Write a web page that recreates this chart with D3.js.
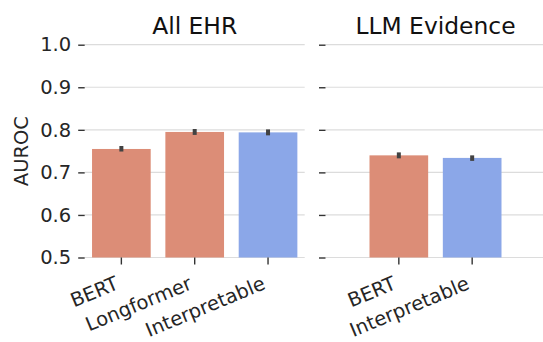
<!DOCTYPE html>
<html>
<head>
<meta charset="utf-8">
<script src="https://cdn.jsdelivr.net/npm/d3@7"></script>
<style>
  html, body { margin: 0; padding: 0; background: #fff; }
  svg { display: block; font-family: "DejaVu Sans", sans-serif; }
</style>
</head>
<body>
<div id="chart"></div>
<script>
// ── Data ─────────────────────────────────────────────────────
const panelTitles = ['All EHR', 'LLM Evidence'];

const ehrModels = ['BERT', 'Longformer', 'Interpretable'];
const ehrAuroc  = [0.755, 0.795, 0.794];
const ehrLow    = [0.749, 0.788, 0.787];
const ehrHigh   = [0.762, 0.802, 0.801];

const llmModels = ['BERT', 'Interpretable'];
const llmAuroc  = [0.740, 0.734];
const llmLow    = [0.733, 0.727];
const llmHigh   = [0.747, 0.740];

const yTicks = [0.5, 0.6, 0.7, 0.8, 0.9, 1.0];

const COLORS = { neural: '#dc8d77', interp: '#8ba7e8' };
const colorOf = m => m === 'Interpretable' ? COLORS.interp : COLORS.neural;

// ── Layout ───────────────────────────────────────────────────
const width = 543, height = 342;
const plotTop = 44.7, plotBottom = 257.5;
const panels = [
  { title: panelTitles[0], x0: 84.7,  x1: 304.7, models: ehrModels, vals: ehrAuroc, lo: ehrLow, hi: ehrHigh, labels: true },
  { title: panelTitles[1], x0: 325.5, x1: 545.5, models: llmModels, vals: llmAuroc, lo: llmLow, hi: llmHigh, labels: false },
];
const slots = 3; // both panels share the same category width

const svg = d3.select('#chart').append('svg')
  .attr('width', width).attr('height', height);

const y = d3.scaleLinear().domain([0.5, 1.0]).range([plotBottom, plotTop]);

const textColor = '#262626';

panels.forEach(p => {
  const step = (p.x1 - p.x0) / slots;
  const inset = (slots - p.models.length) * step / 2;
  const x = d3.scaleBand()
    .domain(p.models)
    .range([p.x0 + inset, p.x1 - inset])
    .paddingInner(0.2)
    .paddingOuter(0.1);

  const g = svg.append('g');

  // grid
  g.selectAll('line.grid').data(yTicks).join('line')
    .attr('x1', p.x0).attr('x2', p.x1)
    .attr('y1', d => y(d)).attr('y2', d => y(d))
    .attr('stroke', '#dcdcdc').attr('stroke-width', 1.2);

  // y axis (ticks only, no spine)
  const yAxis = d3.axisLeft(y).tickValues(yTicks).tickSize(6.5).tickPadding(7)
    .tickFormat(p.labels ? d3.format('.1f') : '');
  const ya = g.append('g').attr('transform', `translate(${p.x0},0)`).call(yAxis);
  ya.select('.domain').remove();
  ya.selectAll('.tick line').attr('stroke', '#333').attr('stroke-width', 1.4);
  ya.selectAll('.tick text')
    .attr('fill', textColor).attr('font-size', 19.5)
    .attr('font-family', '"DejaVu Sans", sans-serif');

  // bars
  g.selectAll('rect.bar').data(p.models).join('rect')
    .attr('x', d => x(d))
    .attr('width', x.bandwidth())
    .attr('y', (d, i) => y(p.vals[i]))
    .attr('height', (d, i) => y(0.5) - y(p.vals[i]))
    .attr('fill', d => colorOf(d));

  // error bars
  g.selectAll('line.err').data(p.models).join('line')
    .attr('x1', d => x(d) + x.bandwidth() / 2)
    .attr('x2', d => x(d) + x.bandwidth() / 2)
    .attr('y1', (d, i) => y(p.lo[i]))
    .attr('y2', (d, i) => y(p.hi[i]))
    .attr('stroke', '#424242').attr('stroke-width', 4);

  // x ticks
  const xa = g.append('g').attr('transform', `translate(0,${plotBottom})`)
    .call(d3.axisBottom(x).tickSize(7).tickFormat(''));
  xa.select('.domain').remove();
  xa.selectAll('.tick line').attr('stroke', '#333').attr('stroke-width', 1.4);

  // rotated x labels
  g.selectAll('text.xlab').data(p.models).join('text')
    .attr('transform', d => `translate(${x(d) + x.bandwidth() / 2 - 1.5},${288.5}) rotate(-22.5)`)
    .attr('text-anchor', 'end')
    .attr('fill', textColor)
    .attr('font-size', 19.5)
    .text(d => d);

  // title
  g.append('text')
    .attr('x', (p.x0 + p.x1) / 2)
    .attr('y', 33.5)
    .attr('text-anchor', 'middle')
    .attr('fill', '#111')
    .attr('font-size', 23.4)
    .text(p.title);
});

// y axis label
svg.append('text')
  .attr('transform', `translate(28.3,${(plotTop + plotBottom) / 2}) rotate(-90)`)
  .attr('text-anchor', 'middle')
  .attr('fill', textColor)
  .attr('font-size', 19.5)
  .text('AUROC');
</script>
</body>
</html>
